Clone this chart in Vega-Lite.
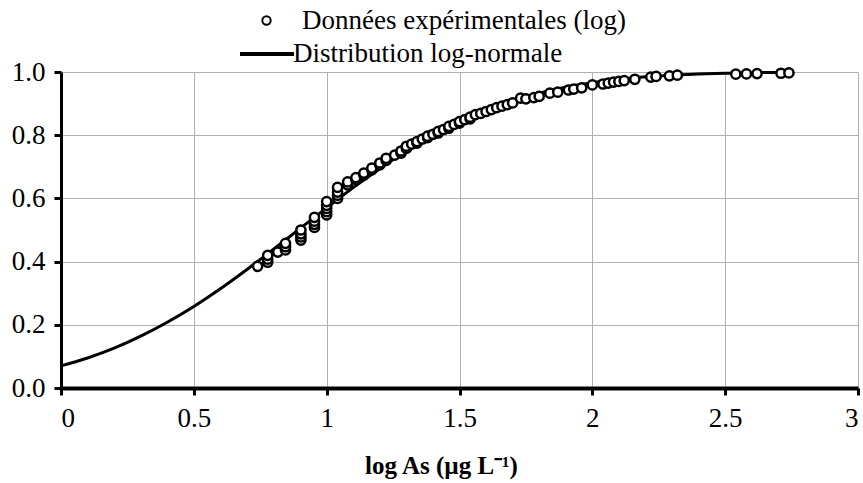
{
  "$schema": "https://vega.github.io/schema/vega-lite/v6.json",
  "width": 797,
  "height": 316,
  "autosize": {"type": "none"},
  "padding": {"left": 61, "top": 72, "right": 5, "bottom": 95},
  "background": "white",
  "config": {
    "view": {"stroke": null},
    "font": "Liberation Serif",
    "axis": {
      "domainColor": "black",
      "domainWidth": 3,
      "tickColor": "black",
      "tickWidth": 3,
      "tickSize": 7,
      "gridColor": "#b0b0b0",
      "gridWidth": 1,
      "labelFont": "Liberation Serif",
      "labelFontSize": 27,
      "labelColor": "black",
      "titleFont": "Liberation Serif",
      "titleColor": "black"
    },
    "legend": {
      "labelFont": "Liberation Serif",
      "labelFontSize": 27,
      "labelColor": "black",
      "labelLimit": 0,
      "padding": 0,
      "title": null
    }
  },
  "datasets": {
    "curve": [
      {"x": 0, "y": 0.070, "s": "Distribution log-normale"}, {"x": 0.1, "y": 0.095, "s": "Distribution log-normale"},
      {"x": 0.2, "y": 0.126, "s": "Distribution log-normale"}, {"x": 0.3, "y": 0.164, "s": "Distribution log-normale"},
      {"x": 0.4, "y": 0.208, "s": "Distribution log-normale"}, {"x": 0.5, "y": 0.258, "s": "Distribution log-normale"},
      {"x": 0.6, "y": 0.314, "s": "Distribution log-normale"}, {"x": 0.7, "y": 0.375, "s": "Distribution log-normale"},
      {"x": 0.8, "y": 0.439, "s": "Distribution log-normale"}, {"x": 0.9, "y": 0.505, "s": "Distribution log-normale"},
      {"x": 1.0, "y": 0.570, "s": "Distribution log-normale"}, {"x": 1.1, "y": 0.634, "s": "Distribution log-normale"},
      {"x": 1.2, "y": 0.694, "s": "Distribution log-normale"}, {"x": 1.3, "y": 0.750, "s": "Distribution log-normale"},
      {"x": 1.4, "y": 0.799, "s": "Distribution log-normale"}, {"x": 1.5, "y": 0.842, "s": "Distribution log-normale"},
      {"x": 1.6, "y": 0.879, "s": "Distribution log-normale"}, {"x": 1.7, "y": 0.909, "s": "Distribution log-normale"},
      {"x": 1.8, "y": 0.933, "s": "Distribution log-normale"}, {"x": 1.9, "y": 0.952, "s": "Distribution log-normale"},
      {"x": 2.0, "y": 0.966, "s": "Distribution log-normale"}, {"x": 2.1, "y": 0.977, "s": "Distribution log-normale"},
      {"x": 2.2, "y": 0.985, "s": "Distribution log-normale"}, {"x": 2.3, "y": 0.990, "s": "Distribution log-normale"},
      {"x": 2.4, "y": 0.994, "s": "Distribution log-normale"}, {"x": 2.5, "y": 0.996, "s": "Distribution log-normale"},
      {"x": 2.6, "y": 0.998, "s": "Distribution log-normale"}, {"x": 2.7, "y": 0.9985, "s": "Distribution log-normale"},
      {"x": 2.74, "y": 0.999, "s": "Distribution log-normale"}
    ],
    "pts": [
      {"x": 0.74, "y": 0.385, "s": "Données expérimentales (log)"},
      {"x": 0.778, "y": 0.398, "s": "Données expérimentales (log)"},
      {"x": 0.778, "y": 0.408, "s": "Données expérimentales (log)"},
      {"x": 0.778, "y": 0.42, "s": "Données expérimentales (log)"},
      {"x": 0.816, "y": 0.43, "s": "Données expérimentales (log)"},
      {"x": 0.845, "y": 0.437, "s": "Données expérimentales (log)"},
      {"x": 0.845, "y": 0.447, "s": "Données expérimentales (log)"},
      {"x": 0.845, "y": 0.458, "s": "Données expérimentales (log)"},
      {"x": 0.903, "y": 0.468, "s": "Données expérimentales (log)"},
      {"x": 0.903, "y": 0.478, "s": "Données expérimentales (log)"},
      {"x": 0.903, "y": 0.488, "s": "Données expérimentales (log)"},
      {"x": 0.903, "y": 0.5, "s": "Données expérimentales (log)"},
      {"x": 0.954, "y": 0.508, "s": "Données expérimentales (log)"},
      {"x": 0.954, "y": 0.518, "s": "Données expérimentales (log)"},
      {"x": 0.954, "y": 0.528, "s": "Données expérimentales (log)"},
      {"x": 0.954, "y": 0.54, "s": "Données expérimentales (log)"},
      {"x": 1.0, "y": 0.548, "s": "Données expérimentales (log)"},
      {"x": 1.0, "y": 0.558, "s": "Données expérimentales (log)"},
      {"x": 1.0, "y": 0.568, "s": "Données expérimentales (log)"},
      {"x": 1.0, "y": 0.578, "s": "Données expérimentales (log)"},
      {"x": 1.0, "y": 0.59, "s": "Données expérimentales (log)"},
      {"x": 1.041, "y": 0.6, "s": "Données expérimentales (log)"},
      {"x": 1.041, "y": 0.61, "s": "Données expérimentales (log)"},
      {"x": 1.041, "y": 0.62, "s": "Données expérimentales (log)"},
      {"x": 1.041, "y": 0.635, "s": "Données expérimentales (log)"},
      {"x": 1.079, "y": 0.643, "s": "Données expérimentales (log)"},
      {"x": 1.079, "y": 0.652, "s": "Données expérimentales (log)"},
      {"x": 1.11, "y": 0.66, "s": "Données expérimentales (log)"},
      {"x": 1.11, "y": 0.666, "s": "Données expérimentales (log)"},
      {"x": 1.14, "y": 0.674, "s": "Données expérimentales (log)"},
      {"x": 1.14, "y": 0.68, "s": "Données expérimentales (log)"},
      {"x": 1.17, "y": 0.69, "s": "Données expérimentales (log)"},
      {"x": 1.17, "y": 0.696, "s": "Données expérimentales (log)"},
      {"x": 1.2, "y": 0.706, "s": "Données expérimentales (log)"},
      {"x": 1.2, "y": 0.712, "s": "Données expérimentales (log)"},
      {"x": 1.224, "y": 0.72, "s": "Données expérimentales (log)"},
      {"x": 1.224, "y": 0.727, "s": "Données expérimentales (log)"},
      {"x": 1.256, "y": 0.737, "s": "Données expérimentales (log)"},
      {"x": 1.28, "y": 0.743, "s": "Données expérimentales (log)"},
      {"x": 1.28, "y": 0.75, "s": "Données expérimentales (log)"},
      {"x": 1.3, "y": 0.758, "s": "Données expérimentales (log)"},
      {"x": 1.3, "y": 0.765, "s": "Données expérimentales (log)"},
      {"x": 1.32, "y": 0.772, "s": "Données expérimentales (log)"},
      {"x": 1.34, "y": 0.775, "s": "Données expérimentales (log)"},
      {"x": 1.34, "y": 0.78, "s": "Données expérimentales (log)"},
      {"x": 1.36, "y": 0.788, "s": "Données expérimentales (log)"},
      {"x": 1.38, "y": 0.792, "s": "Données expérimentales (log)"},
      {"x": 1.38, "y": 0.797, "s": "Données expérimentales (log)"},
      {"x": 1.4, "y": 0.803, "s": "Données expérimentales (log)"},
      {"x": 1.42, "y": 0.807, "s": "Données expérimentales (log)"},
      {"x": 1.42, "y": 0.812, "s": "Données expérimentales (log)"},
      {"x": 1.44, "y": 0.818, "s": "Données expérimentales (log)"},
      {"x": 1.46, "y": 0.822, "s": "Données expérimentales (log)"},
      {"x": 1.46, "y": 0.828, "s": "Données expérimentales (log)"},
      {"x": 1.48, "y": 0.834, "s": "Données expérimentales (log)"},
      {"x": 1.5, "y": 0.838, "s": "Données expérimentales (log)"},
      {"x": 1.5, "y": 0.843, "s": "Données expérimentales (log)"},
      {"x": 1.52, "y": 0.849, "s": "Données expérimentales (log)"},
      {"x": 1.54, "y": 0.852, "s": "Données expérimentales (log)"},
      {"x": 1.54, "y": 0.857, "s": "Données expérimentales (log)"},
      {"x": 1.56, "y": 0.865, "s": "Données expérimentales (log)"},
      {"x": 1.58, "y": 0.869, "s": "Données expérimentales (log)"},
      {"x": 1.6, "y": 0.875, "s": "Données expérimentales (log)"},
      {"x": 1.62, "y": 0.881, "s": "Données expérimentales (log)"},
      {"x": 1.64, "y": 0.887, "s": "Données expérimentales (log)"},
      {"x": 1.66, "y": 0.892, "s": "Données expérimentales (log)"},
      {"x": 1.68, "y": 0.897, "s": "Données expérimentales (log)"},
      {"x": 1.7, "y": 0.902, "s": "Données expérimentales (log)"},
      {"x": 1.73, "y": 0.917, "s": "Données expérimentales (log)"},
      {"x": 1.75, "y": 0.915, "s": "Données expérimentales (log)"},
      {"x": 1.78, "y": 0.919, "s": "Données expérimentales (log)"},
      {"x": 1.8, "y": 0.923, "s": "Données expérimentales (log)"},
      {"x": 1.84, "y": 0.933, "s": "Données expérimentales (log)"},
      {"x": 1.87, "y": 0.936, "s": "Données expérimentales (log)"},
      {"x": 1.91, "y": 0.943, "s": "Données expérimentales (log)"},
      {"x": 1.93, "y": 0.946, "s": "Données expérimentales (log)"},
      {"x": 1.96, "y": 0.95, "s": "Données expérimentales (log)"},
      {"x": 2.0, "y": 0.959, "s": "Données expérimentales (log)"},
      {"x": 2.04, "y": 0.962, "s": "Données expérimentales (log)"},
      {"x": 2.06, "y": 0.965, "s": "Données expérimentales (log)"},
      {"x": 2.08, "y": 0.968, "s": "Données expérimentales (log)"},
      {"x": 2.1, "y": 0.97, "s": "Données expérimentales (log)"},
      {"x": 2.12, "y": 0.973, "s": "Données expérimentales (log)"},
      {"x": 2.16, "y": 0.977, "s": "Données expérimentales (log)"},
      {"x": 2.22, "y": 0.984, "s": "Données expérimentales (log)"},
      {"x": 2.24, "y": 0.986, "s": "Données expérimentales (log)"},
      {"x": 2.29, "y": 0.988, "s": "Données expérimentales (log)"},
      {"x": 2.32, "y": 0.99, "s": "Données expérimentales (log)"},
      {"x": 2.54, "y": 0.993, "s": "Données expérimentales (log)"},
      {"x": 2.58, "y": 0.994, "s": "Données expérimentales (log)"},
      {"x": 2.62, "y": 0.995, "s": "Données expérimentales (log)"},
      {"x": 2.71, "y": 0.996, "s": "Données expérimentales (log)"},
      {"x": 2.74, "y": 0.997, "s": "Données expérimentales (log)"}
    ]
  },
  "layer": [
    {
      "data": {"name": "curve"},
      "mark": {"type": "line", "strokeWidth": 3, "interpolate": "monotone"},
      "encoding": {
        "x": {
          "field": "x", "type": "quantitative",
          "scale": {"domain": [0, 3], "nice": false},
          "axis": {
            "values": [0, 0.5, 1, 1.5, 2, 2.5, 3],
            "format": "~g",
            "grid": true,
            "labelPadding": 10,
            "title": "log As (µg L⁻¹)",
            "titleFontSize": 25,
            "titleFontWeight": "bold",
            "titlePadding": 22,
            "titleX": 380,
            "titleAlign": "center",
            "domainWidth": 4
          }
        },
        "y": {
          "field": "y", "type": "quantitative",
          "scale": {"domain": [0, 1], "nice": false},
          "axis": {
            "values": [0, 0.2, 0.4, 0.6, 0.8, 1.0],
            "format": ".1f",
            "grid": true,
            "title": null,
            "labelPadding": 9
          }
        },
        "color": {
          "field": "s", "type": "nominal",
          "scale": {"range": ["black"]},
          "legend": {
            "orient": "none",
            "legendX": 177,
            "legendY": -47,
            "symbolType": "stroke",
            "symbolSize": 2916,
            "symbolStrokeWidth": 4,
            "labelOffset": -3
          }
        }
      }
    },
    {
      "data": {"name": "pts"},
      "mark": {"type": "point", "shape": "circle", "filled": true, "stroke": "black", "strokeWidth": 2.5, "size": 85, "opacity": 1},
      "encoding": {
        "x": {"field": "x", "type": "quantitative"},
        "y": {"field": "y", "type": "quantitative"},
        "fill": {
          "field": "s", "type": "nominal",
          "scale": {"range": ["white"]},
          "legend": {
            "orient": "none",
            "legendX": 192,
            "legendY": -65,
            "symbolType": "circle",
            "symbolSize": 70,
            "symbolStrokeWidth": 2,
            "symbolStrokeColor": "black",
            "labelOffset": 22
          }
        }
      }
    }
  ]
}
